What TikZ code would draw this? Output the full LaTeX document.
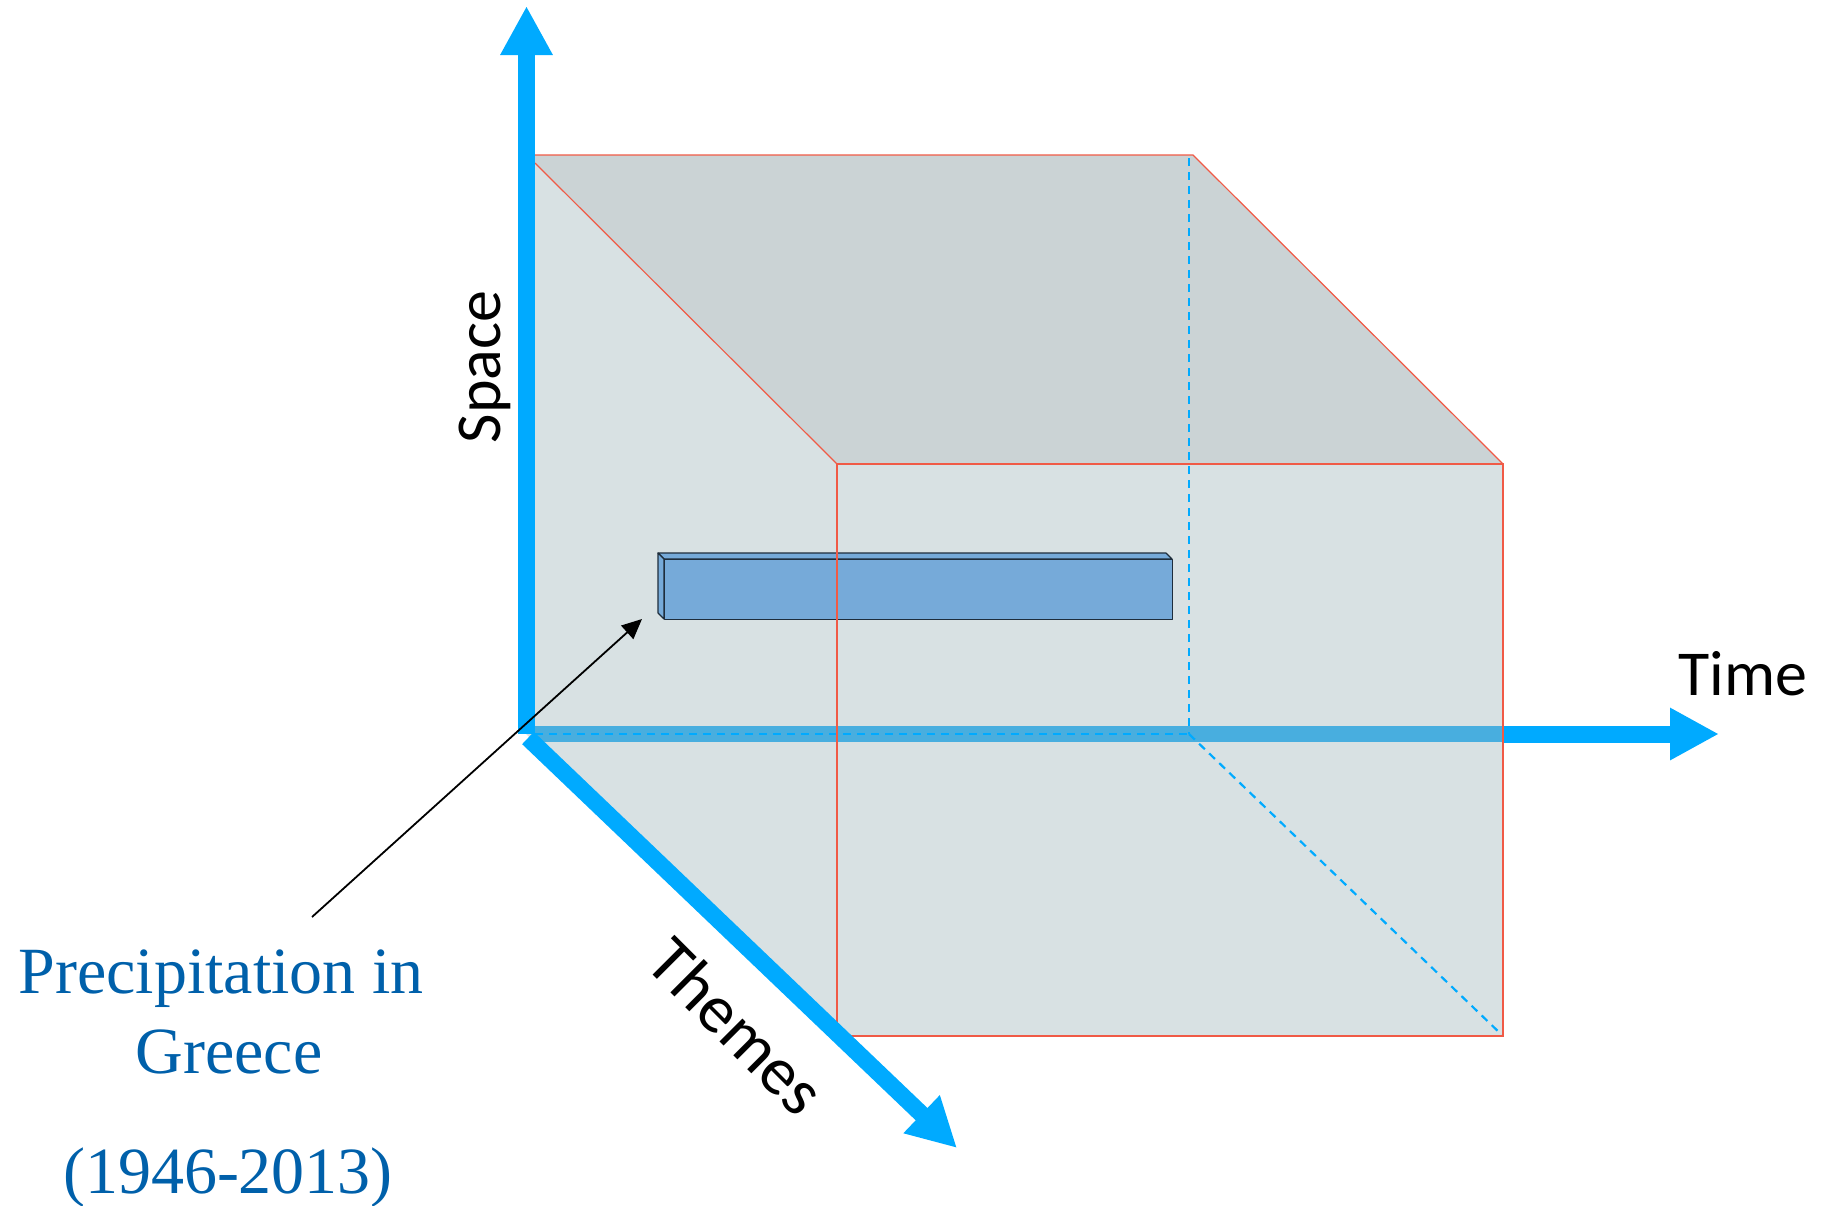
\documentclass[tikz,border=0pt]{standalone}
\usepackage{fontspec}
\setmainfont{Liberation Serif}
\newfontfamily\calibfont{Carlito}
\usetikzlibrary{arrows.meta}
\definecolor{axisblue}{RGB}{0,170,255}
\definecolor{mutedblue}{RGB}{72,174,223}
\definecolor{topface}{RGB}{203,211,213}
\definecolor{sideface}{RGB}{216,225,227}
\definecolor{edgered}{RGB}{240,90,70}
\definecolor{barblue}{RGB}{118,170,217}
\definecolor{baredge}{RGB}{30,45,60}
\definecolor{labelblue}{RGB}{0,96,170}
\tikzset{
  axisline/.style={line width=8.5pt, draw=axisblue},
  axistip/.style={-{Triangle[width=24.5pt,length=24.5pt]}},
  cubeedge/.style={draw=edgered, line width=0.6pt},
  hidden/.style={draw=axisblue, line width=1.1pt, dash pattern=on 4pt off 3pt},
  barface/.style={fill=barblue, draw=baredge, line width=0.6pt, line join=round},
  sanslabel/.style={font=\calibfont\fontsize{32}{38}\selectfont, text=black, inner sep=0pt},
  seriflabel/.style={font=\fontsize{33}{40}\selectfont, text=labelblue, inner sep=0pt}
}
\begin{document}
\begin{tikzpicture}[x=0.5pt, y=-0.5pt]
\useasboundingbox (0,0) rectangle (1830,1205);
% cube corners
\coordinate (btl) at (526,155);
\coordinate (btr) at (1193,155);
\coordinate (bbl) at (526,734);
\coordinate (bbr) at (1189,734);
\coordinate (ftl) at (837,464);
\coordinate (ftr) at (1503,464);
\coordinate (fbl) at (837,1036);
\coordinate (fbr) at (1503,1036);
% faces
\fill[sideface] (btl) -- (ftl) -- (fbl) -- (bbl) -- cycle;
\fill[topface] (btl) -- (btr) -- (ftr) -- (ftl) -- cycle;
\fill[sideface] (ftl) rectangle (fbr);
% time axis (muted inside the cube)
\coordinate (tstart) at (535,734);
\coordinate (tin) at (1503,734);
\coordinate (tend) at (1719,734);
\draw[line width=8pt, draw=mutedblue] (tstart) -- (tin);
\draw[axisline, axistip] (1502,734) -- (tend);
% hidden edges
\draw[hidden] (tstart) -- (bbr);
\draw[hidden] (1189,158) -- (bbr);
\draw[hidden] (bbr) -- (fbr);
% bar
\draw[barface] (658,553) -- (1166,553) -- (1172,559) -- (664,559) -- cycle;
\draw[barface] (658,553) -- (664,559) -- (664,619) -- (658,613) -- cycle;
\node[barface, draw, minimum width=254pt, minimum height=30pt, anchor=north west, inner sep=0pt] (bar) at (664,559) {};
% red edges
\draw[cubeedge] (535,155) -- (btr) -- (ftr);
\draw[cubeedge] (535,163) -- (ftl);
\draw[cubeedge] (ftl) rectangle (fbr);
% space axis
\coordinate (sbot) at (526.5,734);
\coordinate (stop) at (526.5,6);
\draw[axisline, axistip] (sbot) -- (stop);
% themes axis
\coordinate (thstart) at (528,738);
\coordinate (thend) at (957,1148);
\draw[axisline, axistip] (thstart) -- (thend);
% pointer
\coordinate (pstart) at (312,917);
\draw[black, line width=0.9pt, -{Triangle[width=9pt,length=10pt]}] (pstart) -- (642,619);
% labels
\node[sanslabel, anchor=base, rotate=90] (space) at (500,367) {Space};
\node[sanslabel, anchor=base] (time) at (1743,695) {Time};
\node[sanslabel, font=\calibfont\fontsize{34}{40}\selectfont, rotate=-45] (themes) at (737,1026) {Themes};
\node[seriflabel, anchor=base] (prec1) at (221,993) {Precipitation in};
\node[seriflabel, anchor=base] (prec2) at (229,1073) {Greece};
\node[seriflabel, anchor=base] (prec3) at (228,1193) {(1946-2013)};
\end{tikzpicture}
\end{document}
